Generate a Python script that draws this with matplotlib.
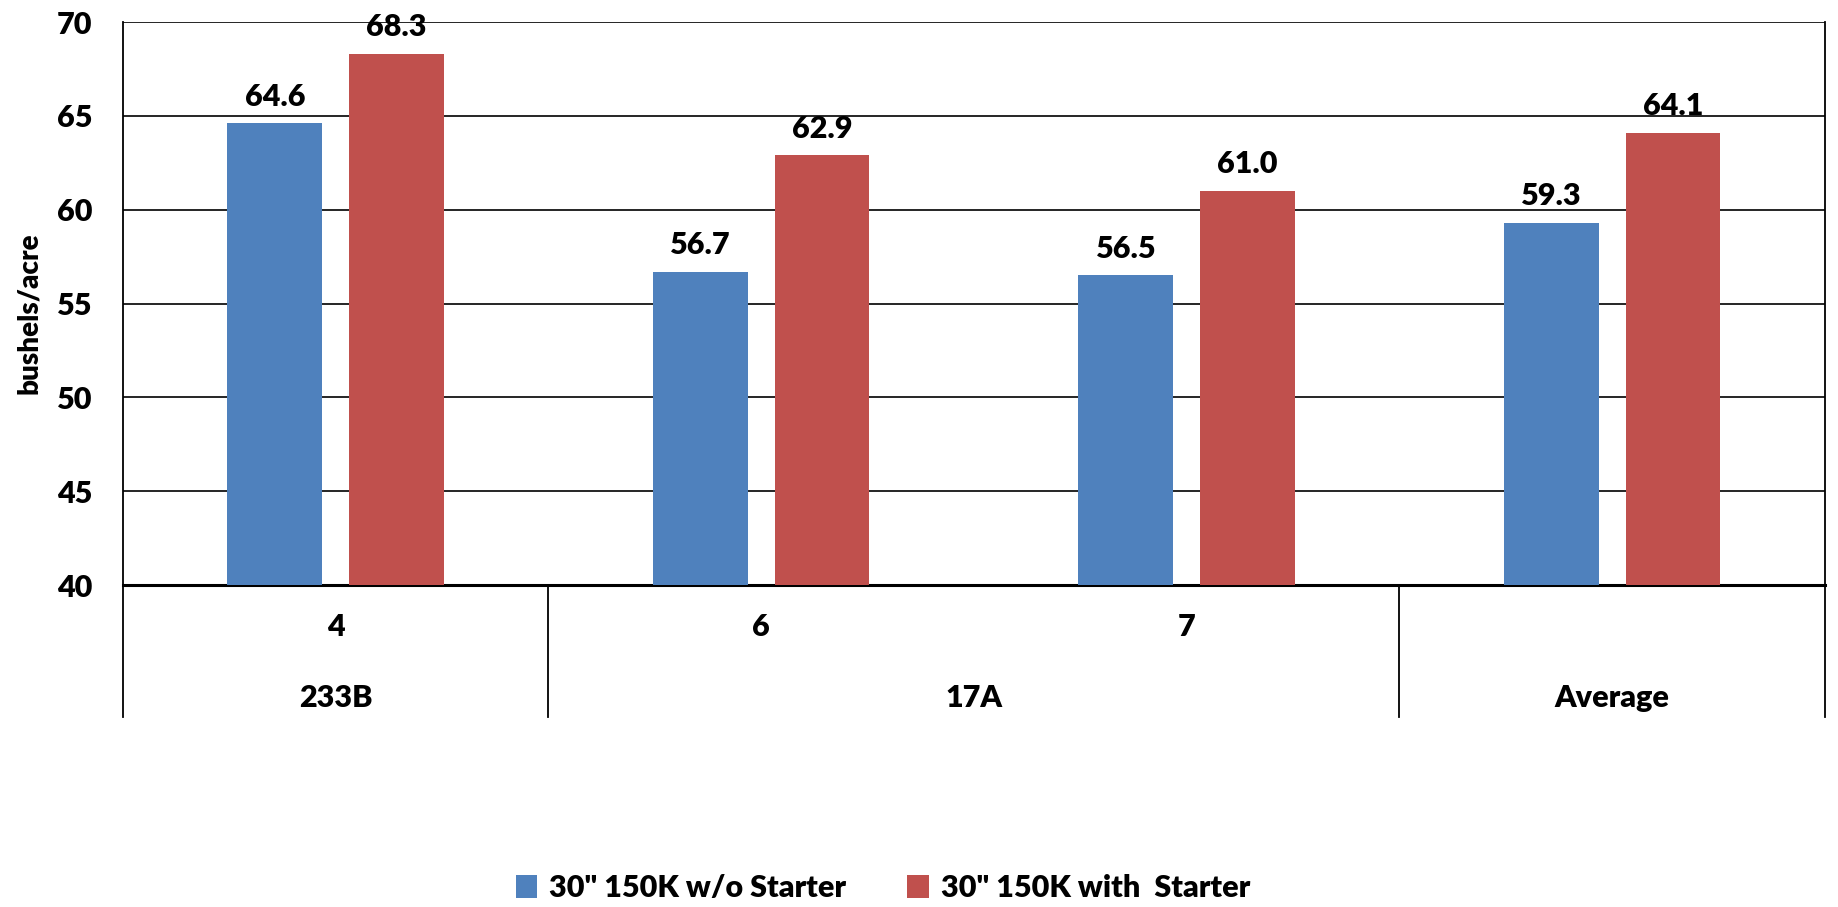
import numpy as np
import matplotlib
matplotlib.use('Agg')
from matplotlib import pyplot as plt
import matplotlib.transforms as mtransforms

sites = ['4', '6', '7', '']
groups = ['233B', '17A', 'Average']
group_spans = [(0, 1), (1, 3), (3, 4)]
without_starter = [64.6, 56.7, 56.5, 59.3]
with_starter = [68.3, 62.9, 61.0, 64.1]
series_names = ['30" 150K w/o Starter', '30" 150K with  Starter']
colors = ['#4F81BD', '#C0504D']

plt.rcParams['font.family'] = ['Lato', 'DejaVu Sans']
plt.rcParams['font.weight'] = 'heavy'
FS = 22
W = 'heavy'

fig = plt.figure(figsize=(18.38, 9.07), dpi=100)
ax = fig.add_axes([0.0669, 0.355, 0.926, 0.6207])

x = np.arange(len(sites))
width = 0.223
off = 0.143
b1 = ax.bar(x - off, without_starter, width, color=colors[0], label=series_names[0], zorder=3)
b2 = ax.bar(x + off, with_starter, width, color=colors[1], label=series_names[1], zorder=3)
for bars in (b1, b2):
    ax.bar_label(bars, fmt='%.1f', padding=9, fontsize=FS, fontweight=W)

ax.set_xlim(-0.5, len(sites) - 0.5)
ax.set_ylim(40, 70)
ax.set_yticks(np.arange(40, 71, 5))
ax.tick_params(axis='y', length=0, labelsize=FS, pad=22)
ax.tick_params(axis='x', length=0, labelbottom=False)
for lbl in ax.get_yticklabels():
    lbl.set_fontweight(W)
ax.grid(axis='y', color='black', linewidth=1.2, zorder=0)
for s in ['top', 'right', 'left']:
    ax.spines[s].set_visible(False)
ax.spines['bottom'].set_linewidth(2.2)

# two-level category axis
trans = mtransforms.blended_transform_factory(ax.transData, ax.transAxes)
y_low = -0.2345
for i, s in enumerate(sites):
    ax.text(i, -0.0746, s, transform=trans, ha='center', va='center', fontsize=FS, fontweight=W)
for g, (a, b) in zip(groups, group_spans):
    ax.text((a + b - 1) / 2, -0.2007, g, transform=trans, ha='center', va='center', fontsize=FS, fontweight=W)
edges = [-0.5] + [b - 0.5 for _, b in group_spans]
for e in edges:
    top = 1.0 if e in (edges[0], edges[-1]) else 0.0
    ax.plot([e, e], [y_low, top], transform=trans, color='black', linewidth=1.3, clip_on=False)

fig.text(29 / 1838, 0.655, 'bushels/acre', rotation=90, ha='center', va='center', fontsize=20, fontweight=W)

fig.legend(handles=[b1, b2], loc='center', bbox_to_anchor=(883 / 1838, 1 - 888 / 907), ncol=2,
           frameon=False, prop={'size': FS, 'weight': W}, handlelength=0.7, handleheight=0.8,
           handletextpad=0.4, columnspacing=2.0)

fig.savefig('out.png', dpi=100)
